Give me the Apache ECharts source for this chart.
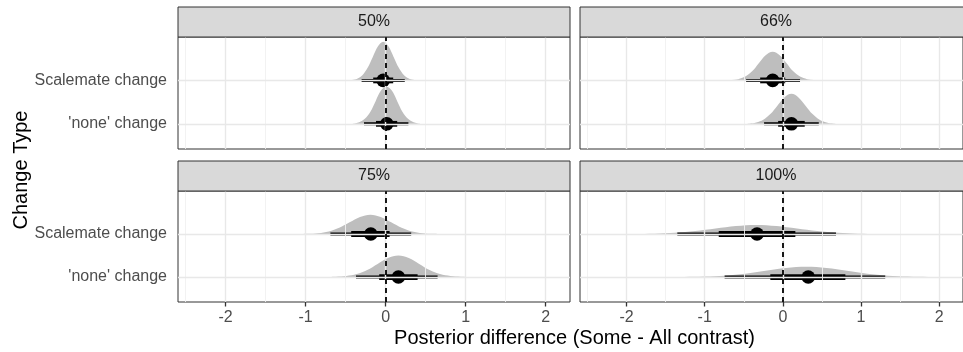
<!DOCTYPE html>
<html><head><meta charset="utf-8">
<script src="https://cdn.jsdelivr.net/npm/echarts@6/dist/echarts.min.js"></script>
<style>html,body{margin:0;padding:0;background:#fff}#c{width:963px;height:352px}</style>
</head><body><div id="c"></div>
<script>
// ---------- data ----------
const panels = ['50%', '66%', '75%', '100%'];
const categories = ["'none' change", 'Scalemate change']; // y = 1, 2
const xTickValues = [-2, -1, 0, 1, 2];
const xMinorValues = [-2.5, -1.5, -0.5, 0.5, 1.5];

// interval summaries, one value per panel (50%, 66%, 75%, 100%)
const scalemateMedian = [-0.03, -0.13, -0.185, -0.33];
const scalemateLo66 = [-0.155, -0.29, -0.43, -0.82];
const scalemateHi66 = [0.095, 0.03, 0.05, 0.16];
const scalemateLo95 = [-0.30, -0.47, -0.69, -1.35];
const scalemateHi95 = [0.24, 0.22, 0.32, 0.68];
const noneMedian = [0.015, 0.11, 0.16, 0.325];
const noneLo66 = [-0.12, -0.06, -0.08, -0.16];
const noneHi66 = [0.145, 0.28, 0.40, 0.80];
const noneLo95 = [-0.27, -0.24, -0.37, -0.745];
const noneHi95 = [0.285, 0.46, 0.65, 1.31];

// slab outlines (x, height in category-spacing units)
const slab50ScalemateX = [-0.485,-0.42,-0.355,-0.29,-0.225,-0.16,-0.095,-0.03,0.035,0.1,0.165,0.23,0.295,0.36,0.425];
const slab50ScalemateH = [0,0.01,0.039,0.12,0.289,0.54,0.785,0.89,0.785,0.54,0.289,0.12,0.039,0.01,0];
const slab50NoneX = [-0.46,-0.395,-0.33,-0.26,-0.19,-0.125,-0.06,0.01,0.08,0.145,0.21,0.28,0.35,0.415,0.48];
const slab50NoneH = [0,0.009,0.038,0.116,0.28,0.522,0.759,0.86,0.759,0.522,0.28,0.116,0.038,0.009,0];
const slab66ScalemateX = [-0.74,-0.655,-0.57,-0.48,-0.39,-0.305,-0.22,-0.13,-0.04,0.045,0.13,0.22,0.31,0.395,0.48];
const slab66ScalemateH = [0,0.007,0.029,0.089,0.215,0.401,0.582,0.66,0.582,0.401,0.215,0.089,0.029,0.007,0];
const slab66NoneX = [-0.52,-0.43,-0.34,-0.25,-0.16,-0.07,0.02,0.11,0.2,0.29,0.38,0.47,0.56,0.65,0.74];
const slab66NoneH = [0,0.008,0.03,0.093,0.224,0.419,0.609,0.69,0.609,0.419,0.224,0.093,0.03,0.008,0];
const slab75ScalemateX = [-1.1,-0.97,-0.84,-0.71,-0.58,-0.45,-0.32,-0.19,-0.06,0.07,0.2,0.33,0.46,0.59,0.72];
const slab75ScalemateH = [0,0.005,0.02,0.061,0.146,0.273,0.397,0.45,0.397,0.273,0.146,0.061,0.02,0.005,0];
const slab75NoneX = [-0.75,-0.62,-0.49,-0.36,-0.23,-0.1,0.03,0.16,0.29,0.42,0.55,0.68,0.81,0.94,1.07];
const slab75NoneH = [0,0.006,0.022,0.068,0.163,0.304,0.441,0.5,0.441,0.304,0.163,0.068,0.022,0.006,0];
const slab100ScalemateX = [-2.16,-1.9,-1.64,-1.38,-1.12,-0.86,-0.6,-0.34,-0.08,0.18,0.44,0.7,0.96,1.22,1.48];
const slab100ScalemateH = [0,0.002,0.009,0.028,0.068,0.127,0.185,0.21,0.185,0.127,0.068,0.028,0.009,0.002,0];
const slab100NoneX = [-1.52,-1.26,-1.0,-0.74,-0.48,-0.22,0.04,0.3,0.56,0.82,1.08,1.34,1.6,1.86,2.12];
const slab100NoneH = [0,0.003,0.011,0.032,0.078,0.146,0.212,0.24,0.212,0.146,0.078,0.032,0.011,0.003,0];

// ---------- build ----------
const slabs = [
  [[slab50NoneX, slab50NoneH], [slab50ScalemateX, slab50ScalemateH]],
  [[slab66NoneX, slab66NoneH], [slab66ScalemateX, slab66ScalemateH]],
  [[slab75NoneX, slab75NoneH], [slab75ScalemateX, slab75ScalemateH]],
  [[slab100NoneX, slab100NoneH], [slab100ScalemateX, slab100ScalemateH]]
];
const FONT = '"Liberation Sans", Arial, Helvetica, sans-serif';
const layout = [
  {left: 178, top: 37, width: 392, height: 112},
  {left: 580, top: 37, width: 392, height: 112},
  {left: 178, top: 191, width: 392, height: 111},
  {left: 580, top: 191, width: 392, height: 111}
];
const X_MIN = -2.595, X_MAX = 2.305, Y_MIN = 0.42, Y_MAX = 3.0;

const grid = [], xAxis = [], yAxis = [], series = [], graphic = [];
layout.forEach((g, i) => {
  const isLeft = (i % 2 === 0), isBottom = (i >= 2);
  grid.push(Object.assign({show: true, borderColor: '#333333', borderWidth: 1, backgroundColor: '#fff'}, g));
  xAxis.push({
    type: 'value', gridIndex: i, min: X_MIN, max: X_MAX,
    axisLine: {show: false}, splitLine: {show: false},
    axisTick: {show: isBottom, customValues: xTickValues, length: 4.5, lineStyle: {color: '#333333', width: 1.3}},
    axisLabel: {show: isBottom, customValues: xTickValues, color: '#4d4d4d', fontSize: 16, fontFamily: FONT, margin: 8}
  });
  yAxis.push({
    type: 'value', gridIndex: i, min: Y_MIN, max: Y_MAX,
    axisLine: {show: false}, splitLine: {show: false},
    axisTick: {show: isLeft, customValues: [1, 2], length: 4.5, lineStyle: {color: '#333333', width: 1.3}},
    axisLabel: {show: isLeft, customValues: [1, 2], color: '#4d4d4d', fontSize: 16, fontFamily: FONT, margin: 11,
      formatter: v => categories[Math.round(v) - 1]}
  });
  const gridLines = [];
  xMinorValues.forEach(v => gridLines.push({xAxis: v, lineStyle: {color: '#f0f0f0', width: 0.9, type: 'solid'}}));
  xTickValues.forEach(v => gridLines.push({xAxis: v, lineStyle: {color: '#e8e8e8', width: 1.4, type: 'solid'}}));
  [1, 2].forEach(v => gridLines.push({yAxis: v, lineStyle: {color: '#e8e8e8', width: 1.4, type: 'solid'}}));
  series.push({
    type: 'line', xAxisIndex: i, yAxisIndex: i, data: [], z: 1, silent: true, animation: false,
    markLine: {silent: true, symbol: ['none', 'none'], label: {show: false}, animation: false, data: gridLines}
  });
  // slabs
  series.push({
    type: 'custom', xAxisIndex: i, yAxisIndex: i, z: 2, silent: true, animation: false,
    data: [[1], [2]], encode: {y: 0},
    renderItem: (params, api) => {
      const base = api.value(0);
      const s = slabs[i][params.dataIndex];
      const pts = s[0].map((x, k) => api.coord([x, base + s[1][k]]));
      const lo = api.coord([s[0][0], base + Math.max(...s[1])]);
      const hi = api.coord([s[0][s[0].length - 1], base]);
      return {type: 'polygon', shape: {points: pts, smooth: 0.35, smoothConstraint: [lo, hi]},
        style: {fill: '#bebebe', stroke: null}};
    }
  });
  // zero reference line
  series.push({
    type: 'line', xAxisIndex: i, yAxisIndex: i, data: [], z: 3, silent: true, animation: false,
    markLine: {silent: true, symbol: ['none', 'none'], label: {show: false}, animation: false,
      data: [{xAxis: 0, lineStyle: {color: '#000', width: 1.8, type: [5, 4]}}]}
  });
  // intervals
  series.push({
    type: 'custom', xAxisIndex: i, yAxisIndex: i, z: 4, silent: true, animation: false,
    data: [
      [1, noneMedian[i], noneLo66[i], noneHi66[i], noneLo95[i], noneHi95[i]],
      [2, scalemateMedian[i], scalemateLo66[i], scalemateHi66[i], scalemateLo95[i], scalemateHi95[i]]
    ],
    encode: {y: 0, x: [1, 2, 3, 4, 5]},
    renderItem: (params, api) => {
      const y = api.value(0);
      const m = api.coord([api.value(1), y]);
      const c = api.coord([api.value(2), y]), d = api.coord([api.value(3), y]);
      const a = api.coord([api.value(4), y]), b = api.coord([api.value(5), y]);
      return {type: 'group', children: [
        {type: 'line', shape: {x1: a[0], y1: a[1], x2: b[0], y2: b[1]}, style: {stroke: '#000', lineWidth: 3}},
        {type: 'line', shape: {x1: c[0], y1: c[1], x2: d[0], y2: d[1]}, style: {stroke: '#000', lineWidth: 5.8}},
        {type: 'circle', shape: {cx: m[0], cy: m[1], r: 6.8}, style: {fill: '#000'}}
      ]};
    }
  });
  // strip
  graphic.push({type: 'rect', shape: {x: g.left, y: g.top - 30, width: g.width, height: 30},
    style: {fill: '#d9d9d9', stroke: '#333333', lineWidth: 1}, z: 10});
  graphic.push({type: 'text', x: g.left + g.width / 2, y: g.top - 15, z: 11,
    style: {text: panels[i], fill: '#1a1a1a', fontSize: 16, fontFamily: FONT, align: 'center', verticalAlign: 'middle'}});
});
graphic.push({type: 'text', x: 574.5, y: 338, style: {text: 'Posterior difference (Some - All contrast)', fill: '#000',
  fontSize: 20, fontFamily: FONT, align: 'center', verticalAlign: 'middle'}});
graphic.push({type: 'text', x: 21, y: 170, rotation: Math.PI / 2, style: {text: 'Change Type', fill: '#000',
  fontSize: 20, fontFamily: FONT, align: 'center', verticalAlign: 'middle'}});

const chart = echarts.init(document.getElementById('c'), null, {renderer: 'canvas'});
chart.setOption({animation: false, backgroundColor: '#fff', grid, xAxis, yAxis, series, graphic});
</script></body></html>
